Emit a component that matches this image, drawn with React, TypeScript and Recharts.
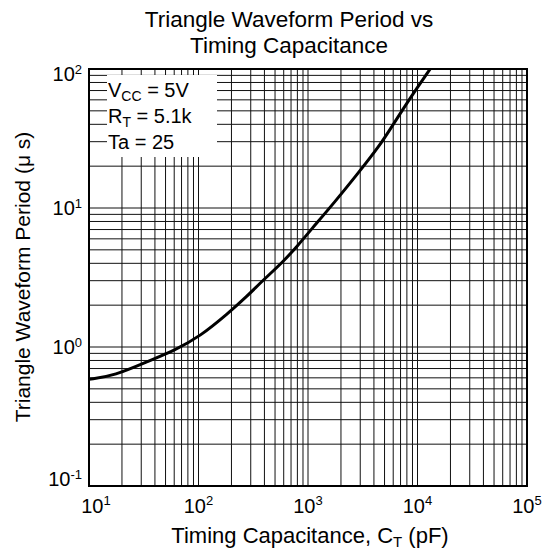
import React from "react";
import { LineChart, Line, XAxis, YAxis, CartesianGrid, ReferenceArea } from "recharts";

// Timing capacitance C_T (pF) and triangle waveform period (µs)
const capacitance = [10, 17, 36, 61, 103, 187, 275, 390, 594, 815, 1043, 1765, 2787, 4560, 5830, 7440, 9860, 13060];
const period = [0.586, 0.62, 0.8, 0.95, 1.19, 1.75, 2.3, 3.03, 4.11, 5.42, 6.84, 11.1, 17.3, 28.4, 38.5, 52.1, 72.6, 100];

const xTicks = [
  10, 20, 30, 40, 50, 60, 70, 80, 90,
  100, 200, 300, 400, 500, 600, 700, 800, 900,
  1000, 2000, 3000, 4000, 5000, 6000, 7000, 8000, 9000,
  10000, 20000, 30000, 40000, 50000, 60000, 70000, 80000, 90000,
  100000,
];
const yTicks = [
  0.1, 0.2, 0.3, 0.4, 0.5, 0.6, 0.7, 0.8, 0.9,
  1, 2, 3, 4, 5, 6, 7, 8, 9,
  10, 20, 30, 40, 50, 60, 70, 80, 90,
  100,
];

const titleLines = ["Triangle Waveform Period vs", "Timing Capacitance"];
const yTitle = "Triangle Waveform Period (μ s)";
const xTitleMain = "Timing Capacitance, C";
const xTitleSub = "T";
const xTitleTail = " (pF)";
const legendItems = [
  { main: "V", sub: "CC", rest: " = 5V" },
  { main: "R", sub: "T", rest: " = 5.1k" },
  { main: "Ta", sub: "", rest: " = 25" },
];

const data = capacitance.map((c, i) => ({ c, t: period[i] }));

const FONT = "'Liberation Sans', Arial, Helvetica, sans-serif";

const decade = (v: number) => {
  const l = Math.log10(v);
  const e = Math.round(l);
  return Math.abs(l - e) < 1e-6 ? e : null;
};

const XTick = (props: any) => {
  const { x, y, payload } = props;
  const e = decade(payload.value);
  if (e === null) return <g />;
  const shift = e === 1 ? 7 : 0;
  return (
    <text x={x + shift} y={y + 27} textAnchor="middle" fontSize={20} fill="#000" fontFamily={FONT}>
      10
      <tspan dy={-8} fontSize={13}>{e}</tspan>
    </text>
  );
};

const YTick = (props: any) => {
  const { x, y, payload } = props;
  const e = decade(payload.value);
  if (e === null) return <g />;
  let dyBase = 6.5;
  if (e === 2) dyBase = 12;
  if (e === -1) dyBase = 0;
  return (
    <text x={x - 7} y={y + dyBase} textAnchor="end" fontSize={20} fill="#000" fontFamily={FONT}>
      10
      <tspan dy={-7} fontSize={13}>{e}</tspan>
    </text>
  );
};

export default function App() {
  return (
    <div style={{ position: "absolute", left: 0, top: 0, width: 550, height: 555, background: "#fff" }}>
      <LineChart
        width={550}
        height={555}
        data={data}
        margin={{ top: 69, right: 23, left: 0, bottom: 0 }}
      >
        <CartesianGrid stroke="#111" strokeWidth={1} />
        <XAxis
          dataKey="c"
          type="number"
          scale="log"
          domain={[10, 100000]}
          ticks={xTicks}
          interval={0}
          allowDataOverflow
          axisLine={false}
          tickLine={false}
          tickSize={0}
          tickMargin={0}
          height={69}
          tick={<XTick />}
        />
        <YAxis
          dataKey="t"
          type="number"
          scale="log"
          domain={[0.1, 100]}
          ticks={yTicks}
          interval={0}
          allowDataOverflow
          axisLine={false}
          tickLine={false}
          tickSize={0}
          tickMargin={0}
          width={89}
          tick={<YTick />}
        />
        <ReferenceArea x1={10} x2={100000} y1={0.1} y2={100} fill="none" stroke="#000" strokeWidth={2} ifOverflow="visible" />
        <Line
          dataKey="t"
          type="basis"
          stroke="#000"
          strokeWidth={3}
          dot={false}
          isAnimationActive={false}
        />
      </LineChart>
      <svg
        width={550}
        height={555}
        style={{ position: "absolute", left: 0, top: 0, pointerEvents: "none" }}
        fontFamily={FONT}
      >
        {titleLines.map((t, i) => (
          <text key={t} x={289} y={27 + i * 25.5} textAnchor="middle" fontSize={22.5} fill="#000">
            {t}
          </text>
        ))}
        <text
          x={0}
          y={0}
          transform="translate(30,277) rotate(-90)"
          textAnchor="middle"
          fontSize={21}
          fill="#000"
        >
          {yTitle}
        </text>
        <text x={310} y={543} textAnchor="middle" fontSize={22} fill="#000">
          {xTitleMain}
          <tspan dy={4} fontSize={15}>{xTitleSub}</tspan>
          <tspan dy={-4}>{xTitleTail}</tspan>
        </text>
        <rect x={107} y={75} width={110} height={82} fill="#fff" />
        {legendItems.map((it, i) => (
          <text key={i} x={108} y={97 + i * 26} fontSize={20} fill="#000">
            {it.main}
            {it.sub ? <tspan dy={4} fontSize={14}>{it.sub}</tspan> : null}
            <tspan dy={it.sub ? -4 : 0}>{it.rest}</tspan>
          </text>
        ))}
      </svg>
    </div>
  );
}
